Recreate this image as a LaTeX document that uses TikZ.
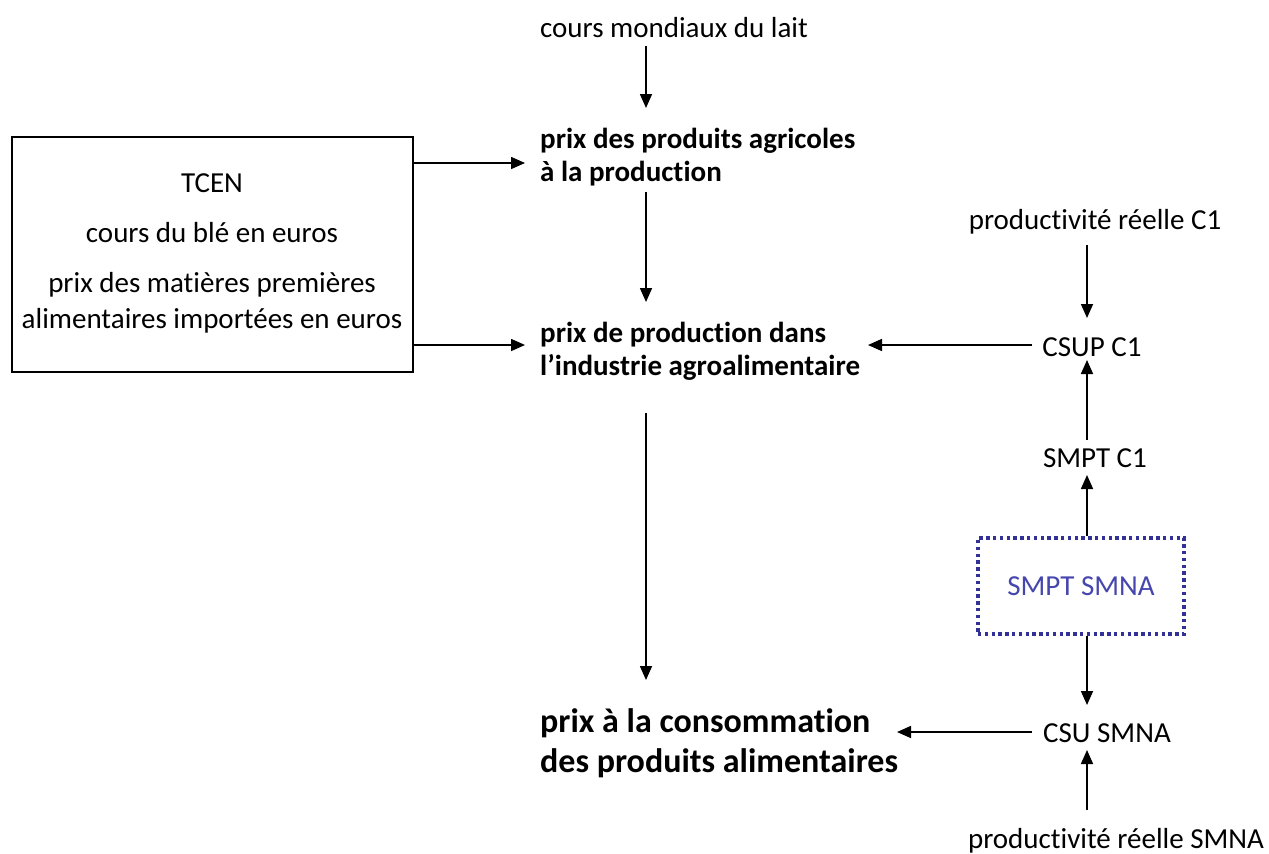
\documentclass[tikz,border=0pt]{standalone}
\usepackage{fontspec}
\setmainfont{Carlito}[Ligatures=NoCommon]
\usetikzlibrary{arrows.meta,positioning}

\definecolor{smnablue}{RGB}{50,50,150}
\definecolor{smnatext}{RGB}{70,70,175}

\tikzset{
  fleche/.style={-{Triangle[length=14pt,width=12pt]},line width=1.6pt},
  etiq/.style={font=\fontsize{29}{34}\selectfont,inner sep=0pt},
  prix/.style={font=\fontsize{29}{33}\selectfont\bfseries,align=left,inner sep=0pt,anchor=west},
}

\begin{document}
\begin{tikzpicture}[x=1pt,y=-1pt]
\useasboundingbox (0,0) rectangle (1269,854);
% central column
\node[etiq] (lait) at (674,28) {cours mondiaux du lait};
\node[prix] (agri) at (540,157) {prix des produits agricoles\\à la production};
\node[prix] (iaa) at (540,351) {prix de production dans\\l'industrie agroalimentaire};
\node[prix,font=\fontsize{34}{40}\selectfont\bfseries] (conso) at (540,743) {prix à la consommation\\des produits alimentaires};
% left box
\node[draw,line width=2.2pt,minimum width=401pt,minimum height=235pt,inner sep=0pt] (entrees) at (212.5,254.5) {};
\node[etiq] (tcen) at (212,183) {TCEN};
\node[etiq] (ble) at (212,233) {cours du blé en euros};
\node[etiq,align=center,font=\fontsize{29}{36}\selectfont] (mp) at (212,303) {prix des matières premières\\alimentaires importées en euros};
% right column
\node[etiq] (prodc) at (1095,222) {productivité réelle C1};
\node[etiq] (csupc) at (1092,347) {CSUP C1};
\node[etiq] (smptc) at (1095,458) {SMPT C1};
\node[draw=smnablue,line width=3.4pt,dash pattern=on 3.4pt off 3.4pt,minimum width=206pt,minimum height=96pt,
  text=smnatext,font=\fontsize{29}{34}\selectfont] (smna) at (1081,586) {SMPT SMNA};
\node[etiq] (csus) at (1107,733) {CSU SMNA};
\node[etiq] (prods) at (1116,841) {productivité réelle SMNA};
% arrows
\draw[fleche] (lait.south -| 646,0) ++(0,8) -- (646,108);
\draw[fleche] (646,192) -- (646,302);
\draw[fleche] (646,413) -- (646,680);
\draw[fleche] (entrees.east |- 0,163) -- (525,163);
\draw[fleche] (entrees.east |- 0,345) -- (525,345);
\draw[fleche] (1087,245) -- (1087,318);
\draw[fleche] (csupc.west) ++(-10,-2) -- (868,345);
\draw[fleche] (1087,440) -- (1087,360);
\draw[fleche] (smna.north -| 1087,0) -- (1087,475);
\draw[fleche] (smna.south -| 1087,0) -- (1087,705);
\draw[fleche] (csus.west) ++(-11,-1) -- (897,732);
\draw[fleche] (1087,810) -- (1087,750);
\end{tikzpicture}
\end{document}
